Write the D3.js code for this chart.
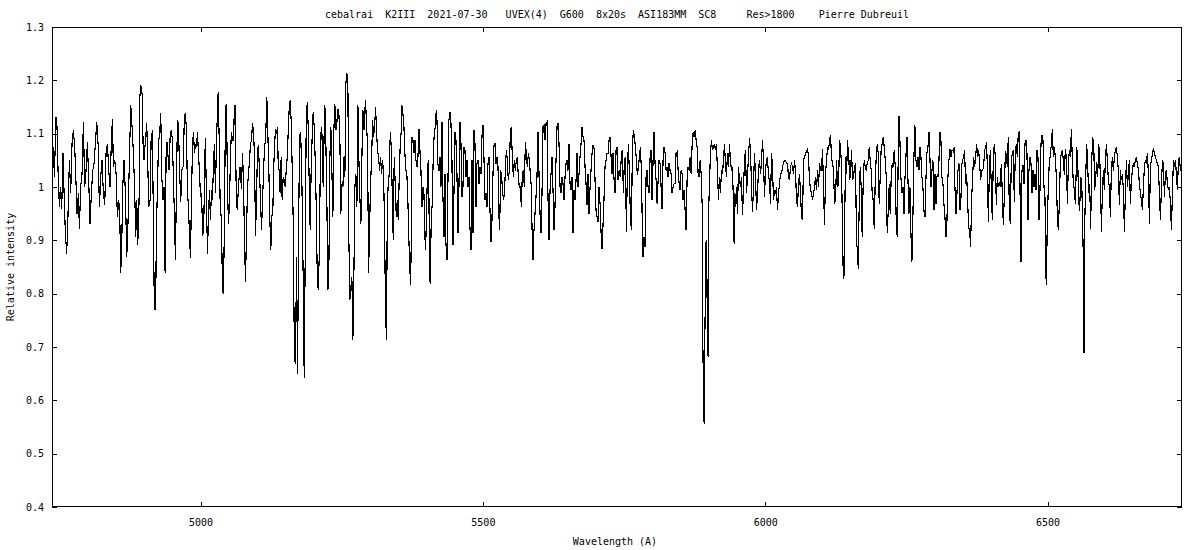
<!DOCTYPE html>
<html><head><meta charset="utf-8">
<script src="https://cdn.jsdelivr.net/npm/d3@7"></script>
<style>body{margin:0;background:#fff}svg text{font-family:"DejaVu Sans Mono",monospace;font-size:10px;fill:#000;white-space:pre}</style>
</head><body><svg id="c" width="1200" height="550"></svg>
<script>
const titleText = "cebalrai  K2III  2021-07-30   UVEX(4)  G600  8x20s  ASI183MM  SC8     Res>1800    Pierre Dubreuil";
const xLabel = "Wavelength (A)";
const yLabel = "Relative intensity";
const xTicks = [5000, 5500, 6000, 6500];
const yTicks = [0.4, 0.5, 0.6, 0.7, 0.8, 0.9, 1.0, 1.1, 1.2, 1.3];
const yTickLabels = ["0.4","0.5","0.6","0.7","0.8","0.9","1","1.1","1.2","1.3"];
const xDomain = [4737, 6738];
const yDomain = [0.4, 1.3];

// [wavelength (A), relative intensity]
const seg4738 = [[4738.2,1.031],[4739.4,1.075],[4741.2,1.019],[4744.1,1.131],[4745.9,1.113],[4747.7,1.031],[4750.0,0.963],[4751.8,1.000],[4754.2,0.959],[4756.5,1.063],[4758.9,0.969],[4760.7,0.913],[4763.0,0.875],[4765.4,0.950],[4767.8,1.050],[4770.1,0.988],[4772.5,1.081],[4774.8,1.106],[4777.2,1.075],[4779.6,1.006],[4781.3,0.950],[4783.7,0.988],[4785.5,0.922],[4787.8,1.000],[4790.2,1.025],[4792.6,1.122],[4794.9,1.000],[4797.3,1.031],[4799.7,1.084],[4802.0,1.013],[4804.4,0.931],[4806.7,0.988],[4809.1,1.031],[4811.5,1.044],[4813.8,1.081],[4816.2,1.122],[4818.6,1.081],[4820.9,0.963],[4823.3,1.019],[4825.6,1.050],[4828.0,0.988],[4830.4,0.966],[4832.7,1.063],[4835.1,1.081],[4837.5,1.031],[4839.8,1.000],[4842.2,1.088],[4844.0,1.128],[4845.7,1.038],[4848.1,1.050],[4850.5,1.025],[4852.8,0.944],[4855.2,0.975],[4857.0,0.950],[4858.7,0.838],[4860.5,0.894],[4862.3,1.000],[4864.6,1.050],[4867.0,0.988],[4869.4,0.869],[4871.7,0.938],[4874.1,1.056],[4876.5,1.153],[4878.8,1.113],[4881.2,1.063],[4883.5,0.988],[4885.3,0.906],[4887.1,0.975],[4888.9,0.891],[4891.2,0.975],[4892.4,1.166],[4894.2,1.191],[4896.5,1.175],[4898.3,1.081],[4900.1,1.050],[4902.4,1.088],[4904.8,1.119],[4906.6,1.044],[4908.3,0.963],[4910.7,0.975],[4912.5,1.088],[4914.8,1.106],[4916.6,0.925],[4917.8,0.813],[4919.6,0.769],[4920.8,0.800],[4921.9,0.925],[4923.7,0.994],[4925.5,1.081],[4927.8,1.103],[4929.6,1.138],[4931.4,1.019],[4933.8,0.975],[4935.5,1.000]];

const seg4937 = [[4937.3,0.838],[4939.0,1.056],[4940.8,1.084],[4942.6,1.056],[4944.4,1.031],[4946.1,1.091],[4947.9,1.106],[4949.7,1.094],[4951.5,1.038],[4953.2,0.969],[4955.6,0.863],[4957.4,1.006],[4959.1,1.125],[4960.9,1.119],[4962.7,1.038],[4965.0,0.972],[4966.8,1.031],[4969.2,1.038],[4971.5,1.134],[4973.3,1.138],[4975.1,1.106],[4976.8,0.994],[4978.6,0.963],[4980.4,0.913],[4982.2,0.866],[4983.9,0.975],[4985.7,1.075],[4987.5,1.103],[4989.3,1.063],[4991.0,1.081],[4992.8,1.075],[4994.6,1.103],[4996.3,1.063],[4998.1,1.031],[4999.9,0.981],[5001.7,0.988],[5004.0,0.909],[5005.8,0.931],[5007.6,1.056],[5008.7,1.091],[5010.5,0.975],[5012.3,0.875],[5014.1,0.944],[5015.8,0.994],[5017.6,0.938],[5019.4,0.994],[5021.2,0.975],[5022.9,1.044],[5024.7,1.081],[5026.5,0.988],[5028.2,1.088],[5030.0,1.138],[5031.2,1.178],[5033.0,1.094],[5034.7,0.975],[5037.1,0.934],[5038.9,0.806],[5040.6,0.800],[5042.4,0.938],[5044.2,1.150],[5046.0,1.156],[5047.7,1.000],[5049.5,0.931],[5051.3,0.969],[5053.1,1.063],[5054.8,1.103],[5056.6,1.088],[5058.4,1.088],[5060.1,1.150],[5061.3,1.153],[5063.1,1.000],[5064.9,0.956],[5066.6,0.988],[5068.4,1.019],[5070.2,1.038],[5072.5,0.997],[5074.3,1.063],[5076.1,1.013],[5077.9,0.900],[5079.6,0.822],[5081.4,0.913],[5083.2,1.000],[5085.0,1.025],[5086.7,1.050],[5088.5,1.081],[5090.3,1.088],[5092.0,1.119],[5093.8,1.106],[5095.6,1.056],[5097.4,0.909],[5099.1,0.975],[5100.9,1.072],[5102.7,1.078],[5104.4,1.025],[5106.2,0.981],[5108.0,0.919],[5109.8,0.975],[5111.5,1.025],[5113.3,1.075],[5115.1,1.088],[5116.3,1.125],[5117.4,1.169],[5119.2,1.100],[5121.0,1.031],[5122.8,0.938],[5124.5,0.881],[5126.3,0.944],[5128.1,0.956],[5129.3,1.025],[5131.0,1.075],[5132.8,1.109],[5134.6,1.100],[5136.3,1.113],[5137.5,1.044]];

const seg5139 = [[5139.3,1.031],[5141.0,0.988],[5142.8,1.056],[5144.6,0.975],[5146.4,1.019],[5148.1,1.013],[5149.9,1.000],[5151.7,1.031],[5153.5,1.056],[5155.2,1.100],[5157.0,1.147],[5158.8,1.163],[5160.5,1.125],[5162.3,1.038],[5164.1,0.938],[5165.3,0.788],[5166.4,0.675],[5168.2,0.669],[5170.0,0.869],[5171.8,0.650],[5173.5,0.888],[5175.3,1.094],[5177.1,1.103],[5178.9,1.050],[5180.6,0.931],[5182.4,0.775],[5183.6,0.641],[5185.3,0.863],[5187.1,1.113],[5188.9,1.159],[5190.7,1.113],[5192.4,1.013],[5194.2,0.919],[5196.0,1.038],[5197.8,1.097],[5199.5,1.141],[5201.3,1.113],[5203.1,1.050],[5204.8,0.969],[5206.6,0.844],[5208.4,0.806],[5210.2,0.869],[5211.9,1.019],[5213.7,1.113],[5215.5,1.094],[5217.2,1.000],[5219.0,1.106],[5220.2,1.153],[5222.0,1.081],[5223.7,0.975],[5225.5,0.806],[5227.3,0.850],[5229.1,1.056],[5230.8,1.113],[5232.6,1.031],[5234.4,0.944],[5236.1,1.106],[5237.9,1.156],[5239.7,1.106],[5241.5,1.122],[5243.2,1.147],[5245.0,1.138],[5246.8,1.088],[5248.5,0.950],[5250.3,1.006],[5252.1,1.000],[5253.9,1.056],[5255.6,1.019],[5257.4,1.194],[5259.2,1.213],[5261.0,1.181],[5262.7,0.900],[5264.5,0.788],[5266.3,0.813],[5268.0,0.831],[5269.8,0.713],[5271.6,0.838],[5273.4,1.000],[5275.1,1.025],[5276.9,0.963],[5278.7,1.153],[5280.5,1.050],[5282.2,0.981],[5284.0,0.931],[5285.8,1.056],[5287.5,1.144],[5289.3,1.106],[5291.1,1.144],[5292.3,1.163],[5294.0,1.113],[5295.8,1.081],[5297.6,0.838],[5299.4,0.925],[5301.1,1.006],[5302.9,1.050],[5304.7,1.125],[5306.4,1.094],[5308.2,1.113],[5310.0,1.150],[5311.8,1.100],[5313.5,1.069],[5315.3,1.056],[5317.1,1.031],[5318.8,1.056],[5320.6,1.025],[5322.4,1.050],[5324.2,1.025],[5325.9,0.925],[5327.7,0.756],[5329.5,0.713],[5330.7,0.963],[5332.4,1.006],[5334.2,1.025],[5336.0,1.103],[5337.8,1.075],[5338.9,1.019]];

const seg5341 = [[5341.3,0.900],[5343.0,1.056],[5344.8,1.006],[5346.6,0.944],[5348.4,0.975],[5350.1,0.938],[5351.9,1.019],[5353.7,1.081],[5355.5,1.106],[5356.6,1.153],[5358.4,1.138],[5360.2,1.113],[5361.9,1.063],[5363.7,1.031],[5365.5,1.022],[5367.3,0.969],[5369.0,0.900],[5370.8,0.844],[5372.0,0.816],[5373.2,0.900],[5374.4,1.094],[5376.1,1.088],[5377.9,1.063],[5379.7,1.088],[5381.4,1.050],[5383.2,1.038],[5385.0,1.056],[5386.8,1.109],[5388.5,1.069],[5390.3,1.031],[5392.1,0.963],[5393.8,1.000],[5395.6,0.988],[5397.4,0.906],[5398.6,0.881],[5400.3,0.956],[5402.1,1.041],[5403.9,1.050],[5405.7,0.834],[5406.8,0.819],[5408.6,0.944],[5410.4,0.969],[5412.2,1.063],[5413.9,1.100],[5415.7,1.113],[5417.5,1.144],[5418.7,1.125],[5420.4,1.044],[5422.2,1.031],[5424.0,1.056],[5425.7,1.000],[5427.5,1.122],[5429.3,0.981],[5431.1,0.906],[5432.8,1.025],[5434.6,0.894],[5436.4,0.863],[5438.1,1.006],[5439.9,1.125],[5441.7,1.141],[5443.5,1.119],[5445.2,1.050],[5447.0,0.891],[5448.8,0.988],[5450.6,1.103],[5452.3,1.088],[5454.1,1.025],[5455.9,0.913],[5457.6,1.000],[5459.4,1.122],[5461.2,1.081],[5463.0,0.981],[5464.7,1.000],[5466.5,1.075],[5468.3,1.069],[5470.0,1.019],[5471.8,1.050],[5473.6,1.000],[5475.4,1.019],[5477.1,0.925],[5478.9,0.881],[5480.7,1.050],[5482.5,0.913],[5484.2,1.106],[5486.0,1.081],[5487.8,0.963],[5489.5,1.044],[5491.3,1.050],[5493.1,1.006],[5494.9,1.038],[5496.6,1.025],[5498.4,1.094],[5500.2,1.116],[5501.9,1.056],[5503.7,0.975],[5505.5,0.988],[5507.3,0.963],[5509.0,1.044],[5510.8,1.056],[5512.6,0.956],[5514.4,0.897],[5516.1,0.938],[5517.9,1.025],[5519.7,1.078],[5521.4,1.081],[5523.2,1.044],[5525.0,1.056],[5526.8,1.038],[5528.5,0.944],[5529.7,0.919],[5531.5,1.031],[5533.3,1.019],[5535.0,0.988],[5536.8,0.975],[5538.6,1.000],[5540.3,1.044]];

const seg5541 = [[5541.5,1.069],[5543.3,1.050],[5545.0,1.013],[5546.8,1.031],[5548.6,1.100],[5550.4,1.113],[5552.1,1.056],[5553.9,1.019],[5555.7,1.050],[5557.5,1.031],[5559.2,1.050],[5561.0,1.056],[5562.8,1.019],[5564.5,1.000],[5566.3,1.000],[5568.1,0.963],[5569.9,1.025],[5571.6,1.031],[5573.4,1.000],[5575.2,1.084],[5576.9,1.063],[5578.7,1.038],[5580.5,1.063],[5582.3,1.050],[5584.0,1.025],[5585.8,1.000],[5587.0,0.925],[5588.8,0.863],[5590.5,0.919],[5592.3,0.950],[5594.1,0.981],[5595.8,1.019],[5597.6,1.103],[5599.4,1.025],[5601.2,0.950],[5602.9,0.913],[5604.7,0.988],[5606.5,1.113],[5608.3,1.116],[5610.0,1.088],[5611.8,1.119],[5613.6,1.122],[5615.3,0.981],[5617.1,0.900],[5618.9,0.994],[5620.7,1.025],[5622.4,1.056],[5624.2,0.994],[5626.0,0.919],[5627.7,0.963],[5629.5,1.050],[5631.3,1.113],[5633.1,1.119],[5634.8,1.081],[5636.6,1.000],[5638.4,0.988],[5640.1,1.019],[5641.9,1.006],[5643.7,0.975],[5645.5,1.019],[5647.2,1.044],[5649.0,1.050],[5650.8,1.031],[5652.6,1.081],[5654.3,1.006],[5656.1,0.994],[5657.9,1.019],[5659.6,0.913],[5661.4,0.994],[5663.2,0.975],[5665.0,1.013],[5666.7,1.063],[5668.5,1.000],[5670.3,1.025],[5672.0,1.056],[5673.8,1.081],[5675.6,1.113],[5677.4,1.094],[5679.1,1.088],[5680.9,1.038],[5682.7,1.006],[5684.4,0.966],[5686.2,1.025],[5688.0,0.950],[5689.8,1.000],[5691.5,1.031],[5693.3,1.063],[5695.1,1.078],[5696.9,1.072],[5698.6,1.013],[5700.4,0.956],[5702.2,0.944],[5703.9,0.934],[5705.7,1.000],[5707.5,0.969],[5709.3,0.913],[5711.0,0.884],[5712.8,0.931],[5714.6,0.981],[5716.3,1.038],[5718.1,1.050],[5719.9,1.063],[5721.7,1.063],[5723.4,1.088],[5725.2,1.094],[5727.0,1.056],[5728.8,1.025],[5730.5,1.063],[5732.3,1.013],[5734.1,0.988],[5735.8,1.069],[5737.6,1.075],[5739.4,1.013],[5741.2,1.031]];

const seg5743 = [[5743.5,1.019],[5745.3,1.063],[5747.0,1.069],[5748.8,0.988],[5750.6,1.050],[5752.4,1.056],[5754.1,0.916],[5755.9,1.031],[5757.7,1.081],[5759.5,1.025],[5761.2,0.944],[5763.0,0.919],[5764.8,1.075],[5766.5,1.106],[5768.3,1.094],[5770.1,1.075],[5771.9,1.050],[5773.6,1.022],[5775.4,1.038],[5777.2,1.056],[5778.9,1.075],[5780.7,1.031],[5782.5,0.913],[5783.7,0.869],[5785.4,0.906],[5787.2,0.888],[5789.0,1.019],[5790.8,1.031],[5792.5,1.000],[5794.3,0.988],[5796.1,1.056],[5797.8,1.069],[5799.6,0.975],[5801.4,1.050],[5803.2,1.103],[5804.9,1.044],[5806.7,1.013],[5808.5,0.969],[5810.3,1.013],[5812.0,1.050],[5813.8,1.044],[5815.6,1.000],[5817.3,0.959],[5819.1,1.050],[5820.9,1.075],[5822.7,1.063],[5824.4,1.031],[5826.2,1.038],[5828.0,1.019],[5829.7,1.044],[5831.5,1.031],[5833.3,1.025],[5835.1,0.988],[5836.8,1.000],[5838.6,1.006],[5840.4,1.006],[5842.1,1.063],[5843.9,1.066],[5845.7,1.031],[5847.5,1.006],[5849.2,0.994],[5851.0,1.031],[5852.8,1.025],[5854.6,0.975],[5856.3,0.994],[5858.1,0.956],[5859.9,0.919],[5861.6,1.013],[5863.4,1.038],[5865.2,1.031],[5867.0,1.056],[5868.7,1.025],[5870.5,1.078],[5872.3,1.103],[5874.0,1.094],[5875.8,1.106],[5877.6,1.088],[5879.4,1.075],[5881.1,1.025],[5882.9,1.019],[5884.7,1.050],[5886.5,1.025],[5888.2,0.969],[5889.4,0.719],[5890.6,0.613],[5891.8,0.556],[5893.0,0.713],[5894.1,0.813],[5895.3,0.900],[5896.5,0.863],[5897.7,0.700],[5898.9,0.681],[5900.0,0.963],[5901.2,1.006],[5903.0,1.063],[5904.8,1.088],[5906.5,1.069],[5908.3,1.075],[5910.1,1.081],[5911.8,1.069],[5913.6,1.081],[5915.4,1.031],[5917.2,0.975],[5918.9,1.019],[5920.7,0.988],[5922.5,1.031],[5924.3,1.025],[5926.0,1.050],[5927.8,1.081],[5929.6,1.044],[5931.3,1.019],[5933.1,1.063],[5934.9,1.038],[5936.7,1.081],[5938.4,1.050],[5940.2,1.031],[5942.0,1.038],[5943.8,0.963],[5944.9,0.894]];

const seg5945 = [[5945.5,0.988],[5947.3,0.963],[5949.0,1.000],[5950.8,0.950],[5952.6,1.038],[5954.4,1.013],[5956.1,1.000],[5957.9,1.019],[5959.7,0.947],[5961.5,0.994],[5963.2,1.050],[5965.0,1.069],[5966.8,0.988],[5968.5,1.019],[5970.3,1.056],[5972.1,1.091],[5973.9,1.069],[5975.6,1.006],[5977.4,0.953],[5979.2,1.000],[5980.9,1.063],[5982.7,1.025],[5984.5,0.956],[5986.3,0.988],[5988.0,1.031],[5989.8,1.050],[5991.6,1.025],[5993.3,1.044],[5995.1,1.088],[5996.9,1.050],[5998.7,0.981],[6000.4,1.031],[6002.2,1.050],[6004.0,1.056],[6005.8,1.019],[6007.5,1.013],[6009.3,0.969],[6011.1,1.063],[6012.8,1.038],[6014.6,0.975],[6016.4,0.994],[6018.2,0.988],[6019.9,1.000],[6021.7,0.956],[6023.5,0.988],[6025.2,1.006],[6027.0,1.025],[6028.8,1.025],[6030.6,1.038],[6032.3,1.044],[6034.1,1.050],[6035.9,1.050],[6037.7,1.044],[6039.4,1.044],[6041.2,1.019],[6043.0,1.013],[6044.7,1.038],[6046.5,1.044],[6048.3,1.038],[6050.1,1.025],[6051.8,1.050],[6053.6,1.031],[6055.4,0.975],[6057.1,0.963],[6058.9,1.006],[6060.7,1.025],[6062.5,0.988],[6064.2,0.944],[6066.0,0.938],[6067.8,1.050],[6069.5,1.056],[6071.3,1.063],[6073.1,1.066],[6074.9,1.072],[6076.6,1.056],[6078.4,1.013],[6080.2,0.994],[6082.0,0.988],[6083.7,0.975],[6085.5,0.988],[6087.3,1.000],[6089.0,1.019],[6090.8,0.994],[6092.6,1.031],[6094.4,1.000],[6096.1,1.044],[6097.9,1.031],[6099.7,1.031],[6101.4,1.072],[6103.2,1.000],[6105.0,0.928],[6106.8,1.025],[6108.5,1.050],[6110.3,1.075],[6112.1,1.069],[6113.9,1.088],[6115.6,1.097],[6117.4,1.056],[6119.2,1.044],[6120.9,1.031],[6122.7,0.969],[6124.5,0.975],[6126.3,1.050],[6128.0,1.000],[6129.8,1.006],[6131.6,1.088],[6133.3,1.075],[6135.1,1.038],[6136.9,0.913],[6138.1,0.838],[6139.3,0.828],[6140.4,0.913],[6142.2,1.056],[6144.0,1.025],[6145.8,1.088],[6146.9,1.063]];

const seg6147 = [[6147.5,1.075],[6149.3,1.013],[6151.0,1.025],[6152.8,1.069],[6154.6,1.013],[6156.4,1.019],[6158.1,1.038],[6159.9,1.044],[6161.7,0.894],[6163.5,0.881],[6164.6,0.847],[6166.4,0.969],[6168.2,1.038],[6169.9,1.000],[6171.7,0.906],[6173.5,1.013],[6175.3,1.050],[6177.0,1.038],[6178.8,1.031],[6180.6,1.044],[6182.4,1.050],[6184.1,1.075],[6185.9,1.050],[6187.7,1.031],[6189.4,0.988],[6191.2,0.975],[6193.0,0.922],[6194.8,1.013],[6196.5,1.056],[6198.3,1.081],[6200.1,1.063],[6201.8,0.969],[6203.6,1.019],[6205.4,1.075],[6207.2,1.081],[6208.9,1.094],[6210.7,1.075],[6212.5,1.050],[6214.3,1.019],[6216.0,0.913],[6217.8,0.956],[6219.6,1.006],[6221.3,0.950],[6223.1,1.019],[6224.9,1.044],[6226.7,1.038],[6228.4,1.069],[6230.2,1.038],[6232.0,0.931],[6233.7,0.906],[6235.5,1.056],[6236.7,1.134],[6238.5,1.088],[6240.2,1.019],[6242.0,0.988],[6243.8,1.000],[6245.6,0.950],[6247.3,1.013],[6249.1,1.056],[6250.9,1.094],[6252.6,1.019],[6254.4,0.950],[6256.2,1.000],[6258.0,0.913],[6259.7,0.859],[6261.5,0.944],[6263.3,1.056],[6265.0,1.116],[6266.8,1.050],[6268.6,1.038],[6270.4,1.056],[6272.1,1.031],[6273.9,1.075],[6275.7,1.056],[6277.5,1.019],[6279.2,1.000],[6281.0,0.956],[6282.8,0.944],[6284.5,1.013],[6286.3,1.063],[6288.1,1.075],[6289.9,1.103],[6291.6,1.056],[6293.4,1.000],[6295.2,1.031],[6296.9,1.050],[6298.7,0.956],[6300.5,1.025],[6302.3,0.969],[6304.0,1.019],[6305.8,1.019],[6307.6,1.050],[6309.4,1.103],[6311.1,1.088],[6312.9,1.019],[6314.7,1.006],[6316.4,0.969],[6318.2,0.944],[6320.0,0.906],[6321.8,0.938],[6323.5,1.019],[6325.3,1.050],[6327.1,1.072],[6328.8,1.056],[6330.6,1.069],[6332.4,1.069],[6334.2,1.072],[6335.9,1.000],[6337.7,0.950],[6339.5,0.988],[6341.3,1.031],[6343.0,1.044],[6344.8,0.956],[6346.6,0.981],[6348.3,1.044]];

const seg6349 = [[6349.5,1.050],[6351.3,1.056],[6353.0,1.069],[6354.8,1.006],[6356.6,1.025],[6358.4,0.975],[6360.1,0.925],[6361.9,0.919],[6363.7,0.888],[6365.5,0.978],[6367.2,1.019],[6369.0,1.056],[6370.8,1.038],[6372.5,1.056],[6374.3,1.081],[6376.1,1.056],[6377.9,1.069],[6379.6,1.044],[6381.4,1.013],[6383.2,1.031],[6384.9,1.031],[6386.7,1.038],[6388.5,1.069],[6390.3,1.075],[6392.0,1.084],[6393.8,1.019],[6395.0,0.934],[6396.8,1.025],[6398.5,1.069],[6400.3,1.000],[6402.1,0.938],[6403.8,1.050],[6405.6,1.081],[6407.4,1.056],[6409.2,0.966],[6410.9,1.019],[6412.7,1.000],[6414.5,1.006],[6416.2,1.000],[6418.0,1.044],[6419.8,0.988],[6421.6,0.928],[6423.3,0.981],[6425.1,1.066],[6426.9,1.063],[6428.7,1.038],[6430.4,1.094],[6432.2,0.956],[6434.0,0.931],[6435.7,1.050],[6437.5,1.063],[6439.3,1.069],[6441.1,0.972],[6442.8,1.063],[6444.6,1.081],[6446.4,1.056],[6448.1,1.100],[6449.9,1.103],[6451.7,0.950],[6452.9,0.859],[6454.6,1.031],[6456.4,1.041],[6458.2,1.006],[6460.0,1.081],[6461.7,1.088],[6463.5,1.063],[6465.3,0.938],[6467.0,1.031],[6468.8,1.056],[6470.6,1.044],[6472.4,0.988],[6474.1,1.031],[6475.9,1.000],[6477.7,1.025],[6479.5,0.994],[6481.2,1.069],[6483.0,1.056],[6484.8,0.938],[6486.5,0.994],[6488.3,1.081],[6490.1,1.097],[6491.9,1.088],[6493.6,1.000],[6495.4,0.981],[6496.6,0.847],[6497.8,0.816],[6499.5,0.938],[6501.3,1.000],[6503.1,1.050],[6504.9,1.059],[6506.6,1.081],[6508.4,1.109],[6510.2,1.056],[6511.9,1.075],[6513.7,1.056],[6515.5,1.019],[6517.3,0.944],[6519.0,0.919],[6520.8,0.969],[6522.6,1.050],[6524.3,1.063],[6526.1,1.069],[6527.9,1.050],[6529.7,1.022],[6531.4,1.072],[6533.2,1.056],[6535.0,0.969],[6536.8,1.044],[6538.5,1.069],[6540.3,1.056],[6542.1,1.109],[6543.8,1.050],[6545.6,1.006],[6547.4,0.994],[6549.2,0.969],[6550.9,1.041]];

const seg6551 = [[6551.5,1.075],[6553.3,1.050],[6555.0,0.975],[6556.8,0.956],[6558.6,1.019],[6560.4,1.013],[6562.1,0.931],[6563.3,0.863],[6564.5,0.688],[6565.7,0.925],[6567.5,1.019],[6569.2,1.081],[6571.0,1.038],[6572.8,0.988],[6574.5,1.006],[6576.3,0.922],[6578.1,1.050],[6579.9,1.091],[6581.6,1.088],[6583.4,0.994],[6585.2,1.019],[6587.0,1.047],[6588.7,1.019],[6590.5,1.081],[6592.3,1.056],[6594.0,1.000],[6595.2,0.916],[6597.0,0.988],[6598.8,1.031],[6600.5,0.994],[6602.3,1.050],[6604.1,1.081],[6605.8,1.050],[6607.6,1.013],[6609.4,1.000],[6611.2,0.944],[6612.9,1.031],[6614.7,1.056],[6616.5,1.031],[6618.3,1.056],[6620.0,1.069],[6621.8,1.075],[6623.6,1.056],[6625.3,1.031],[6627.1,0.966],[6628.9,1.031],[6630.7,1.013],[6632.4,1.025],[6634.2,0.994],[6636.0,0.916],[6637.7,0.988],[6639.5,1.050],[6641.3,1.000],[6643.1,1.025],[6644.8,1.050],[6646.6,0.969],[6648.4,1.013],[6650.1,1.031],[6651.9,1.044],[6653.7,1.038],[6655.5,1.050],[6657.2,1.056],[6659.0,1.044],[6660.8,1.031],[6662.6,1.006],[6664.3,0.988],[6666.1,0.975],[6667.9,0.956],[6669.6,1.000],[6671.4,1.038],[6673.2,1.050],[6675.0,1.044],[6676.7,1.063],[6678.5,1.025],[6680.3,0.931],[6682.0,1.038],[6683.8,1.050],[6685.6,1.063],[6687.4,1.072],[6689.1,1.063],[6690.9,1.056],[6692.7,1.050],[6694.4,1.044],[6696.2,1.038],[6698.0,0.988],[6699.8,0.938],[6701.5,1.000],[6703.3,1.050],[6705.1,1.044],[6706.9,0.981],[6708.6,1.025],[6710.4,1.031],[6712.2,1.006],[6713.9,0.994],[6715.7,1.000],[6717.5,0.969],[6719.3,0.919],[6721.0,0.988],[6722.8,1.050],[6724.6,1.038],[6726.3,1.050],[6728.1,1.025],[6729.9,0.994],[6731.7,1.050],[6733.4,1.056],[6735.2,1.031],[6737.0,1.038]];

const spectrum = [].concat(seg4738, seg4937, seg5139, seg5341, seg5541, seg5743, seg5945, seg6147, seg6349, seg6551);

const L = 52, R = 1182, T = 27, B = 507;
const svg = d3.select("#c");
svg.append("rect").attr("width",1200).attr("height",550).attr("fill","#fff");

const x = d3.scaleLinear().domain(xDomain).range([L, R]);
const y = d3.scaleLinear().domain(yDomain).range([B, T]);

svg.append("defs").append("clipPath").attr("id","clip")
  .append("rect").attr("x",L).attr("y",T).attr("width",R-L).attr("height",B-T);

const line = d3.line().x(d => x(d[0])).y(d => y(d[1]));
svg.append("path").datum(spectrum)
  .attr("clip-path","url(#clip)")
  .attr("d", line).attr("fill","none").attr("stroke","#000").attr("stroke-width",1.15)
  .attr("shape-rendering","crispEdges")
  .attr("stroke-linejoin","miter");

function styleAxis(g){ g.select(".domain").remove(); g.selectAll("line").attr("stroke","#000").attr("shape-rendering","crispEdges"); g.attr("font-family",null).attr("font-size",null); }

svg.append("g").attr("transform",`translate(0,${B})`)
  .call(d3.axisBottom(x).tickValues(xTicks).tickSizeInner(-5).tickSizeOuter(0).tickPadding(12).tickFormat(d3.format("d")))
  .call(styleAxis);
svg.append("g").attr("transform",`translate(0,${T})`)
  .call(d3.axisTop(x).tickValues(xTicks).tickSizeInner(-5).tickSizeOuter(0).tickFormat(""))
  .call(styleAxis);
svg.append("g").attr("transform",`translate(${L},0)`)
  .call(d3.axisLeft(y).tickValues(yTicks).tickSizeInner(-5).tickSizeOuter(0).tickPadding(8).tickFormat((d,i) => yTickLabels[i]))
  .call(styleAxis);
svg.append("g").attr("transform",`translate(${R},0)`)
  .call(d3.axisRight(y).tickValues(yTicks).tickSizeInner(-5).tickSizeOuter(0).tickFormat(""))
  .call(styleAxis);

svg.append("rect").attr("x",L+0.5).attr("y",T+0.5).attr("width",R-L-1).attr("height",B-T-1)
  .attr("fill","none").attr("stroke","#000").attr("shape-rendering","crispEdges");

svg.append("text").attr("x",(L+R)/2).attr("y",18).attr("text-anchor","middle").text(titleText);
svg.append("text").attr("x",(L+R)/2 - 2).attr("y",545).attr("text-anchor","middle").text(xLabel);
svg.append("text").attr("transform",`translate(14,${(T+B)/2}) rotate(-90)`).attr("text-anchor","middle").text(yLabel);
</script></body></html>
